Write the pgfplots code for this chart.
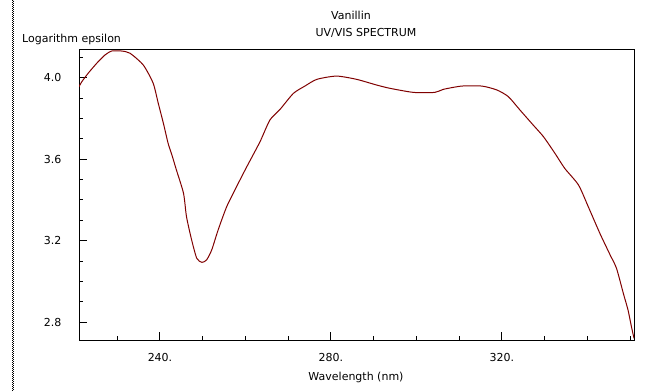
\documentclass[border=0pt]{standalone}
\usepackage{pgfplots}
\pgfplotsset{compat=1.18}
\usepackage{fontspec}
\setmainfont{DejaVu Sans}
\definecolor{curve}{RGB}{128,0,0}
\newcommand{\lf}{\fontsize{11bp}{13bp}\selectfont}
\begin{document}
\begin{tikzpicture}[x=1bp,y=1bp]
\useasboundingbox (0,0) rectangle (662,391);
\fill[white] (0,0) rectangle (662,391);
\draw[line width=1bp, black, dash pattern=on 1bp off 1bp] (12,0)--(12,391);
\draw[line width=1bp, black, dash pattern=on 1bp off 1bp, dash phase=1bp] (13,0)--(13,391);
\begin{axis}[
  at={(79bp,51bp)}, anchor=south west,
  scale only axis, width=555bp, height=290bp,
  xmin=221.05, xmax=350.9, ymin=2.713, ymax=4.136,
  axis line style={line width=1bp, black},
  tick align=inside, xtick pos=bottom, ytick pos=left,
  xtick={240,280,320}, xticklabels={240.,280.,320.},
  minor xtick={230,250,260,270,290,300,310,330,340,350},
  ytick={2.8,3.2,3.6,4.0},
  minor ytick={2.9,3.0,3.1,3.3,3.4,3.5,3.7,3.8,3.9,4.1},
  yticklabel style={/pgf/number format/fixed, /pgf/number format/fixed zerofill, /pgf/number format/precision=1},
  /pgf/number format/assume math mode=true,
  major tick length=8bp, minor tick length=4bp,
  every tick/.style={black, line width=1bp},
  tick label style={font=\lf},
  x tick label style={yshift=-10bp},
  y tick label style={xshift=-14bp},
  clip=true,
]
\addplot[color=curve, line width=1bp, smooth, tension=0.4] coordinates {
(221.05,3.956) (221.7,3.980) (223.2,4.022) (225.2,4.071) (227.1,4.111)
(228.7,4.131) (231.0,4.131) (233.0,4.120) (236.1,4.062) (238.4,3.973)
(239.6,3.874) (240.8,3.776) (241.9,3.678) (242.8,3.620) (243.8,3.550)
(245.5,3.433) (246.2,3.318) (247.4,3.204) (248.6,3.114)
(249.8,3.094) (250.9,3.106) (252.1,3.155) (253.6,3.253) (255.6,3.367)
(257.9,3.465) (260.3,3.563) (263.4,3.686) (265.7,3.792) (268.1,3.845)
(271.2,3.923) (273.9,3.959) (276.7,3.992) (281.3,4.008) (286.0,3.992)
(290.7,3.964) (293.8,3.948) (299.3,3.928) (304.3,3.928) (306.3,3.943)
(310.6,3.959) (315.3,3.959) (318.8,3.940) (321.5,3.907) (324.2,3.842)
(327.3,3.768) (329.7,3.711) (332.4,3.629) (334.7,3.555) (337.9,3.474)
(340.2,3.367) (342.9,3.237) (345.3,3.131) (346.8,3.065) (348.4,2.942)
(349.5,2.860) (350.3,2.778) (350.9,2.721)
};
\end{axis}
\node[anchor=base west, inner sep=0, font=\lf] at (22,349) {Logarithm epsilon};
\node[anchor=base, inner sep=0, font=\lf] at (351,371.7) {Vanillin};
\node[anchor=base, inner sep=0, font=\lf] at (366,355) {UV/VIS SPECTRUM};
\node[anchor=base, inner sep=0, font=\lf] at (356,11) {Wavelength (nm)};
\end{tikzpicture}
\end{document}
